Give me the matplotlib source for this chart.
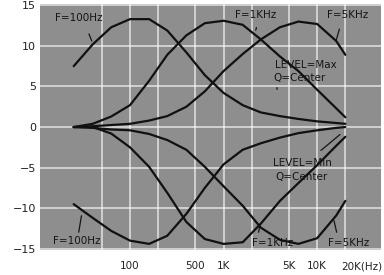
import matplotlib
matplotlib.use("Agg")
import matplotlib.pyplot as plt
import matplotlib.transforms as mtransforms

freq = [25, 40, 63, 100, 160, 250, 400, 630, 1000, 1600, 2500, 4000, 6300, 10000, 16000, 20000]

# LEVEL = Max, Q = Center (dB)
boost_100 = [7.5, 10.2, 12.3, 13.3, 13.3, 11.9, 9.2, 6.4, 4.2, 2.7, 1.8, 1.35, 1.0, 0.7, 0.5, 0.4]
boost_1k = [0, 0.4, 1.3, 2.7, 5.7, 8.9, 11.3, 12.8, 13.1, 12.6, 10.8, 8.7, 6.9, 4.6, 2.3, 1.2]
boost_5k = [0, 0.1, 0.25, 0.4, 0.8, 1.35, 2.5, 4.4, 6.9, 9.0, 10.8, 12.3, 13.0, 12.7, 10.6, 8.9]

# LEVEL = Min, Q = Center (dB)
cut_100 = [-9.5, -11.2, -12.8, -14.0, -14.4, -13.4, -10.7, -7.5, -4.6, -2.8, -2.0, -1.3, -0.75, -0.4, -0.1, 0]
cut_1k = [0, 0, -0.8, -2.5, -4.9, -8.1, -11.7, -13.8, -14.4, -14.2, -11.9, -9.1, -6.9, -4.7, -2.3, -1.2]
cut_5k = [0, -0.1, -0.3, -0.4, -0.85, -1.6, -2.8, -4.9, -7.3, -9.7, -12.4, -13.9, -14.4, -13.7, -10.9, -9.1]

xticks = [100, 500, 1000, 5000, 10000, 20000]
xtick_labels = ["100", "500", "1K", "5K", "10K", "20K(Hz)"]
yticks = [15, 10, 5, 0, -5, -10, -15]
ytick_labels = ["15", "10", "5", "0", "\u22125", "\u221210", "\u221215"]
xgrid = [50, 100, 200, 500, 1000, 2000, 5000, 10000, 20000]

fig = plt.figure(figsize=(3.84, 2.75), dpi=100)
ax = fig.add_axes([0.104, 0.091, 0.888, 0.894])
ax.set_facecolor("#8e8e8e")

ax.set_xscale("log")
ax.set_xlim(10.9, 48000)
ax.set_ylim(-15.15, 15.15)

for g in xgrid:
    ax.axvline(g, color="white", lw=1.1, alpha=0.75, zorder=1)
for g in yticks:
    ax.axhline(g, color="white", lw=1.1, alpha=0.75, zorder=1)

for curve in [boost_100, boost_1k, boost_5k, cut_100, cut_1k, cut_5k]:
    ax.plot(freq, curve, color="#111111", lw=1.6, zorder=3,
            solid_capstyle="round", solid_joinstyle="round")

ax.set_xticks(xticks)
ax.set_xticklabels(xtick_labels)
ax.minorticks_off()
ax.set_yticks(yticks)
ax.set_yticklabels(ytick_labels)
ax.tick_params(axis="x", length=0, pad=8, labelsize=7.5, colors="#222222")
ax.tick_params(axis="y", length=0, pad=3, labelsize=8, colors="#222222")
last = ax.get_xticklabels()[-1]
last.set_horizontalalignment("left")
last.set_transform(last.get_transform() +
                   mtransforms.ScaledTranslation(-4 / 100, 0, fig.dpi_scale_trans))

for s in ax.spines.values():
    s.set_visible(False)

# annotations
txt = dict(fontsize=7.5, color="#151515", va="center", ha="left", zorder=4)
lead = dict(arrowstyle="-", color="#151515", lw=0.9)

ax.text(15.8, 13.5, "F=100Hz", **txt)
ax.annotate("", xy=(40, 10.3), xytext=(35.5, 11.8), arrowprops=lead)
ax.text(1330, 13.8, "F=1KHz", **txt)
ax.annotate("", xy=(2170, 11.6), xytext=(2280, 12.6), arrowprops=lead)
ax.text(12800, 13.8, "F=5KHz", **txt)
ax.annotate("", xy=(15600, 10.3), xytext=(17600, 12.4), arrowprops=lead)
ax.text(3560, 7.6, "LEVEL=Max", **txt)
ax.text(3380, 6.0, "Q=Center", **txt)
ax.annotate("", xy=(3720, 4.3), xytext=(3720, 5.2), arrowprops=lead)

ax.text(3380, -4.4, "LEVEL=Min", **txt)
ax.text(3560, -6.15, "Q=Center", **txt)
ax.annotate("", xy=(18500, -0.7), xytext=(10400, -3.1), arrowprops=lead)
ax.text(14.9, -14.1, "F=100Hz", **txt)
ax.annotate("", xy=(30.6, -10.6), xytext=(28, -13.3), arrowprops=lead)
ax.text(2020, -14.3, "F=1KHz", **txt)
ax.annotate("", xy=(2460, -11.8), xytext=(2340, -13.3), arrowprops=lead)
ax.text(13100, -14.3, "F=5KHz", **txt)
ax.annotate("", xy=(14900, -11.2), xytext=(16400, -13.3), arrowprops=lead)

fig.savefig("out.png", dpi=100)
